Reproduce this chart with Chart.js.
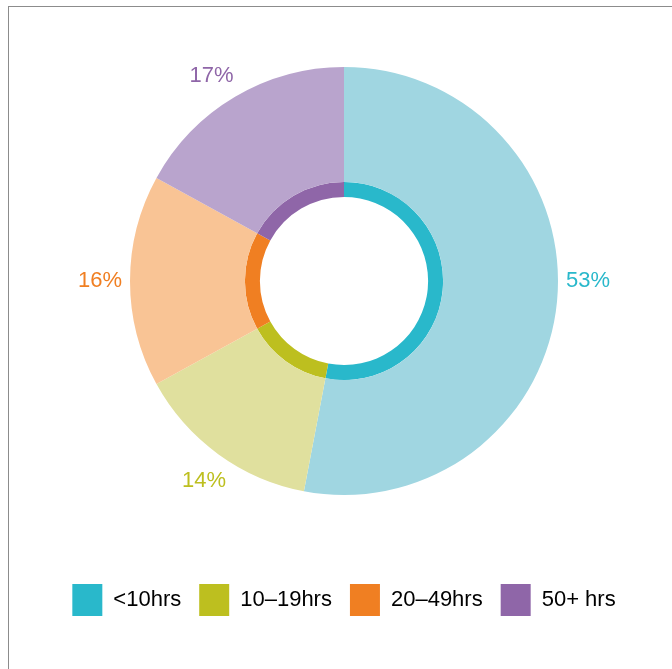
<!DOCTYPE html>
<html>
<head>
<meta charset="utf-8">
<script src="https://cdn.jsdelivr.net/npm/chart.js@4.4.1/dist/chart.umd.min.js"></script>
<style>
    html, body {
        margin: 0;
        padding: 0;
        background: #ffffff;
        overflow: hidden;
    }
    #frame {
        position: absolute;
        left: 8px;
        top: 6px;
        width: 720px;
        height: 720px;
        border: 1px solid #8c8c8c;
    }
    #wrap {
        position: absolute;
        left: 0;
        top: -4px;
        width: 672px;
        height: 681px;
    }
</style>
</head>
<body>
<div id="frame"></div>
<div id="wrap"><canvas id="hoursChart"></canvas></div>
<script>
var categories = ['<10hrs', '10\u201319hrs', '20\u201349hrs', '50+ hrs'];
var shares = [53, 14, 16, 17];

var lightColors = ['#a0d6e1', '#e0e09e', '#f9c495', '#b9a4cd'];
var darkColors = ['#29b8cb', '#bdbf1f', '#f07f22', '#8f66a8'];

// small angle tweaks (degrees) so labels sit where the original put them
var labelNudge = [-5.4, -1, 0, -2.3];

var fontFamily = '"Liberation Sans", Arial, sans-serif';

// draws the "53%" style labels just outside each slice
var outsideLabels = {
    id: 'outsideLabels',
    afterDatasetsDraw: function (chart) {
        var ctx = chart.ctx;
        var meta = chart.getDatasetMeta(0);
        ctx.save();
        ctx.font = '22px ' + fontFamily;
        ctx.textAlign = 'center';
        ctx.textBaseline = 'middle';
        meta.data.forEach(function (arc, i) {
            var mid = (arc.startAngle + arc.endAngle) / 2 + labelNudge[i] * Math.PI / 180;
            var r = arc.outerRadius + 30;
            ctx.fillStyle = darkColors[i];
            ctx.fillText(shares[i] + '%', arc.x + Math.cos(mid) * r, arc.y + Math.sin(mid) * r);
        });
        ctx.restore();
    }
};

new Chart(document.getElementById('hoursChart'), {
    type: 'doughnut',
    data: {
        labels: categories,
        datasets: [{
            data: shares,
            backgroundColor: lightColors,
            borderWidth: 0,
            weight: 115
        }, {
            data: shares,
            backgroundColor: darkColors,
            borderWidth: 0,
            weight: 15
        }]
    },
    options: {
        responsive: true,
        maintainAspectRatio: false,
        animation: false,
        events: [],
        radius: 214,
        cutout: '39.3%',
        layout: {
            padding: { left: 16, top: 0, right: 0, bottom: 51 }
        },
        plugins: {
            tooltip: { enabled: false },
            legend: {
                position: 'bottom',
                labels: {
                    boxWidth: 30,
                    boxHeight: 32,
                    padding: 18,
                    color: '#231f20',
                    font: { family: fontFamily, size: 22 },
                    generateLabels: function () {
                        return categories.map(function (c, i) {
                            return {
                                text: c,
                                fillStyle: darkColors[i],
                                strokeStyle: darkColors[i],
                                lineWidth: 0,
                                index: i
                            };
                        });
                    }
                }
            }
        }
    },
    plugins: [outsideLabels]
});
</script>
</body>
</html>
